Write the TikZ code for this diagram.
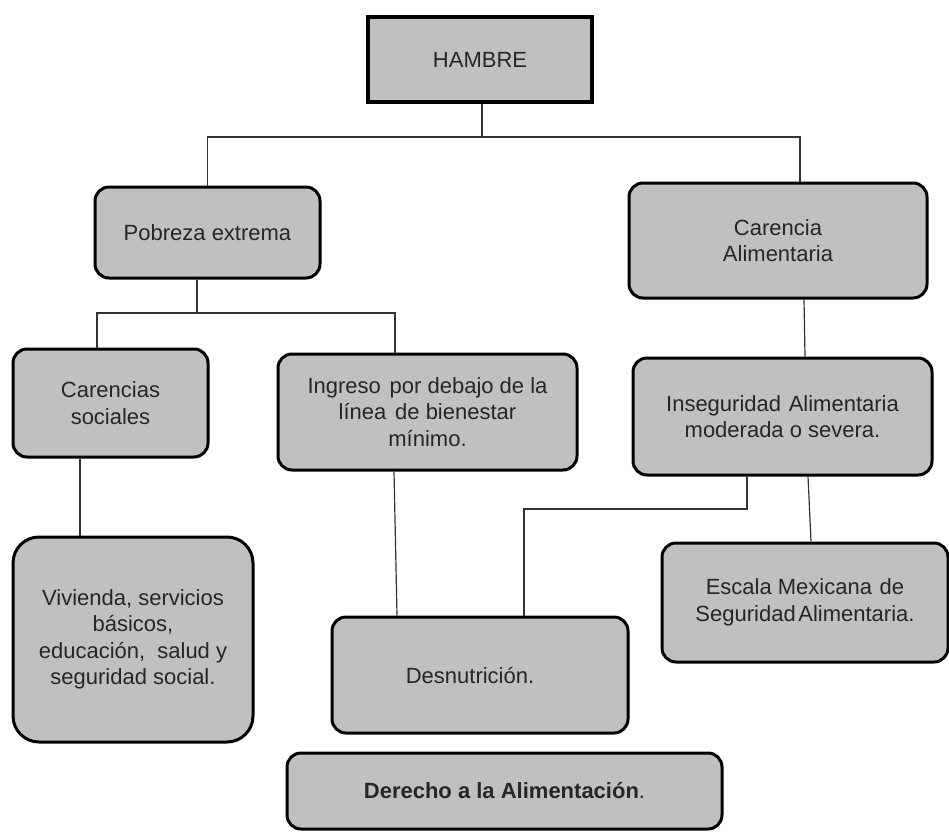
\documentclass[tikz,border=0pt]{standalone}
\usepackage{fontspec}
\setmainfont{Liberation Sans}
\begin{document}
\begin{tikzpicture}[x=1pt,y=-1pt,
  every node/.style={font=\fontsize{22}{26.5}\selectfont, text=black!85, align=center, inner sep=0pt},
  box/.style={draw=black, fill=boxgray, line width=3pt, rounded corners=14pt},
  conn/.style={draw=black!80, line width=1.2pt}
]
\definecolor{boxgray}{HTML}{C0C0C0}
\useasboundingbox (0,0) rectangle (949,832);

% boxes
\node[draw=black, fill=boxgray, line width=4pt, minimum width=224pt, minimum height=85pt] (hambre) at (480,59.5) {HAMBRE};
\node[box, minimum width=225pt, minimum height=91pt] (pobreza) at (207.5,232.5) {Pobreza extrema};
\node[box, minimum width=298pt, minimum height=115pt] (carencia) at (778,240.5) {Carencia\\Alimentaria};
\node[box, minimum width=195pt, minimum height=108pt] (csoc) at (110.5,403) {Carencias\\sociales};
\node[box, minimum width=299pt, minimum height=116pt] (ingreso) at (427.5,412) {Ingreso\hspace{0.4em}por debajo de la\\l\'inea\hspace{0.4em}de bienestar\\m\'inimo.};
\node[box, minimum width=299pt, minimum height=117pt] (inseg) at (782.5,416.5) {Inseguridad\hspace{0.35em}Alimentaria\\moderada o severa.};
\node[box, minimum width=286pt, minimum height=119pt] (escala) at (805,602.5) {Escala Mexicana\hspace{0.35em}de\\Seguridad\hspace{0.12em}Alimentaria.};
\node[box, rounded corners=26pt, minimum width=240pt, minimum height=205pt] (vivienda) at (133,639.5) {\raisebox{-4pt}{\begin{tabular}{@{}c@{}}Vivienda, servicios\\b\'asicos,\\educaci\'on,\hspace{0.55em}salud y\\seguridad social.\end{tabular}}};
\node[box, minimum width=296pt, minimum height=116pt] (desn) at (480,675) {Desnutrici\'on.\hspace*{20pt}};
\node[box, minimum width=435pt, minimum height=76pt, font=\fontsize{22}{26.5}\selectfont\bfseries] (derecho) at (504.5,791) {Derecho a la Alimentaci\'on\textmd{.}};

% junction coordinates
\coordinate (jtop) at (482,137);
\coordinate (xcar) at (800,0);
\coordinate (jpob) at (197,313);
\coordinate (xcs) at (97,0);
\coordinate (xing) at (395,0);
\coordinate (xv) at (80,0);
\coordinate (xi1) at (394,0);
\coordinate (xi2) at (397,0);
\coordinate (xc1) at (804,0);
\coordinate (xc2) at (805,0);
\coordinate (jins) at (747,509);
\coordinate (jdes) at (524,509);
\coordinate (xe1) at (808,0);
\coordinate (xe2) at (811,0);

% connectors
\draw[conn] (hambre.south -| jtop) -- (jtop);
\draw[conn] (pobreza.north) |- (jtop);
\draw[conn] (jtop) -| (carencia.north -| xcar);
\draw[conn] (pobreza.south -| jpob) -- (jpob);
\draw[conn] (csoc.north -| xcs) |- (jpob);
\draw[conn] (jpob) -| (ingreso.north -| xing);
\draw[conn] (csoc.south -| xv) -- (vivienda.north -| xv);
\draw[conn] (ingreso.south -| xi1) -- (desn.north -| xi2);
\draw[conn] (carencia.south -| xc1) -- (inseg.north -| xc2);
\draw[conn] (inseg.south -| jins) -- (jins) -- (jdes) -- (desn.north -| jdes);
\draw[conn] (inseg.south -| xe1) -- (escala.north -| xe2);
\end{tikzpicture}
\end{document}
